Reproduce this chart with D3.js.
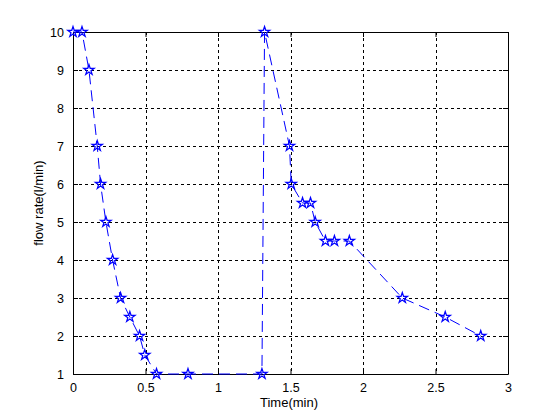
<!DOCTYPE html>
<html><head><meta charset="utf-8">
<script src="https://cdn.jsdelivr.net/npm/d3@7"></script>
<style>body{margin:0;background:#fff;} text{font-family:Arial,"Liberation Sans",sans-serif;}</style>
</head><body>
<svg id="c" width="560" height="420"></svg>
<script>
const timeMin = [0, 0.062, 0.110, 0.167, 0.190, 0.227, 0.273, 0.328, 0.392, 0.459, 0.495, 0.576, 0.793, 1.303, 1.321, 1.493, 1.505, 1.583, 1.638, 1.670, 1.741, 1.803, 1.906, 2.271, 2.567, 2.812];
const flowRate = [10, 10, 9, 7, 6, 5, 4, 3, 2.5, 2, 1.5, 1, 1, 1, 10, 7, 6, 5.5, 5.5, 5, 4.5, 4.5, 4.5, 3, 2.5, 2];
const xTicks = [0, 0.5, 1, 1.5, 2, 2.5, 3];
const yTicks = [1, 2, 3, 4, 5, 6, 7, 8, 9, 10];

const L = 73, R = 508, T = 32, B = 374;
const svg = d3.select("#c");
const x = d3.scaleLinear().domain([0, 3]).range([L, R]);
const y = d3.scaleLinear().domain([1, 10]).range([B, T]);

// grid
const g = svg.append("g");
g.selectAll(".gx").data(xTicks.slice(1, -1)).enter().append("line")
  .attr("x1", d => Math.round(x(d)) + 0.5).attr("x2", d => Math.round(x(d)) + 0.5)
  .attr("y1", T).attr("y2", B).attr("stroke", "#000").attr("stroke-width", 1).attr("stroke-dasharray", "3,3");
g.selectAll(".gy").data(yTicks.slice(1, -1)).enter().append("line")
  .attr("y1", d => Math.round(y(d)) + 0.5).attr("y2", d => Math.round(y(d)) + 0.5)
  .attr("x1", L).attr("x2", R).attr("stroke", "#000").attr("stroke-width", 1).attr("stroke-dasharray", "3,3");

// axes
const fmt = d => String(d);
const xb = svg.append("g").attr("transform", `translate(0,${B})`)
  .call(d3.axisBottom(x).tickValues(xTicks).tickFormat(fmt).tickSizeInner(-5).tickSizeOuter(0).tickPadding(9));
const xt = svg.append("g").attr("transform", `translate(0,${T})`)
  .call(d3.axisTop(x).tickValues(xTicks).tickFormat("").tickSizeInner(-5).tickSizeOuter(0));
const yl = svg.append("g").attr("transform", `translate(${L},0)`)
  .call(d3.axisLeft(y).tickValues(yTicks).tickFormat(fmt).tickSizeInner(-5).tickSizeOuter(0).tickPadding(9));
const yr = svg.append("g").attr("transform", `translate(${R},0)`)
  .call(d3.axisRight(y).tickValues(yTicks).tickFormat("").tickSizeInner(-5).tickSizeOuter(0));
[xb, xt, yl, yr].forEach(a => {
  a.select(".domain").attr("stroke", "#000");
  a.selectAll(".tick line").attr("stroke", "#000");
  a.selectAll("text").attr("font-size", 12.5).attr("fill", "#000").attr("font-family", "Arial, 'Liberation Sans', sans-serif");
});

// line
const line = d3.line().x((d, i) => x(timeMin[i])).y(d => y(d));
svg.append("path").datum(flowRate).attr("d", line)
  .attr("fill", "none").attr("stroke", "#0000ff").attr("stroke-width", 1).attr("stroke-dasharray", "11,6");

// markers
const star = d3.symbol().type(d3.symbolStar).size(34);
svg.selectAll(".m").data(flowRate).enter().append("path")
  .attr("d", star)
  .attr("transform", (d, i) => `translate(${x(timeMin[i])},${y(d)})`)
  .attr("fill", "none").attr("stroke", "#0000ff").attr("stroke-width", 1.2);

// labels
svg.append("text").attr("x", 289).attr("y", 407).attr("text-anchor", "middle")
  .attr("font-size", 13).text("Time(min)");
svg.append("text").attr("transform", "translate(43,203) rotate(-90)").attr("text-anchor", "middle")
  .attr("font-size", 13).text("flow rate(l/min)");
</script>
</body></html>
